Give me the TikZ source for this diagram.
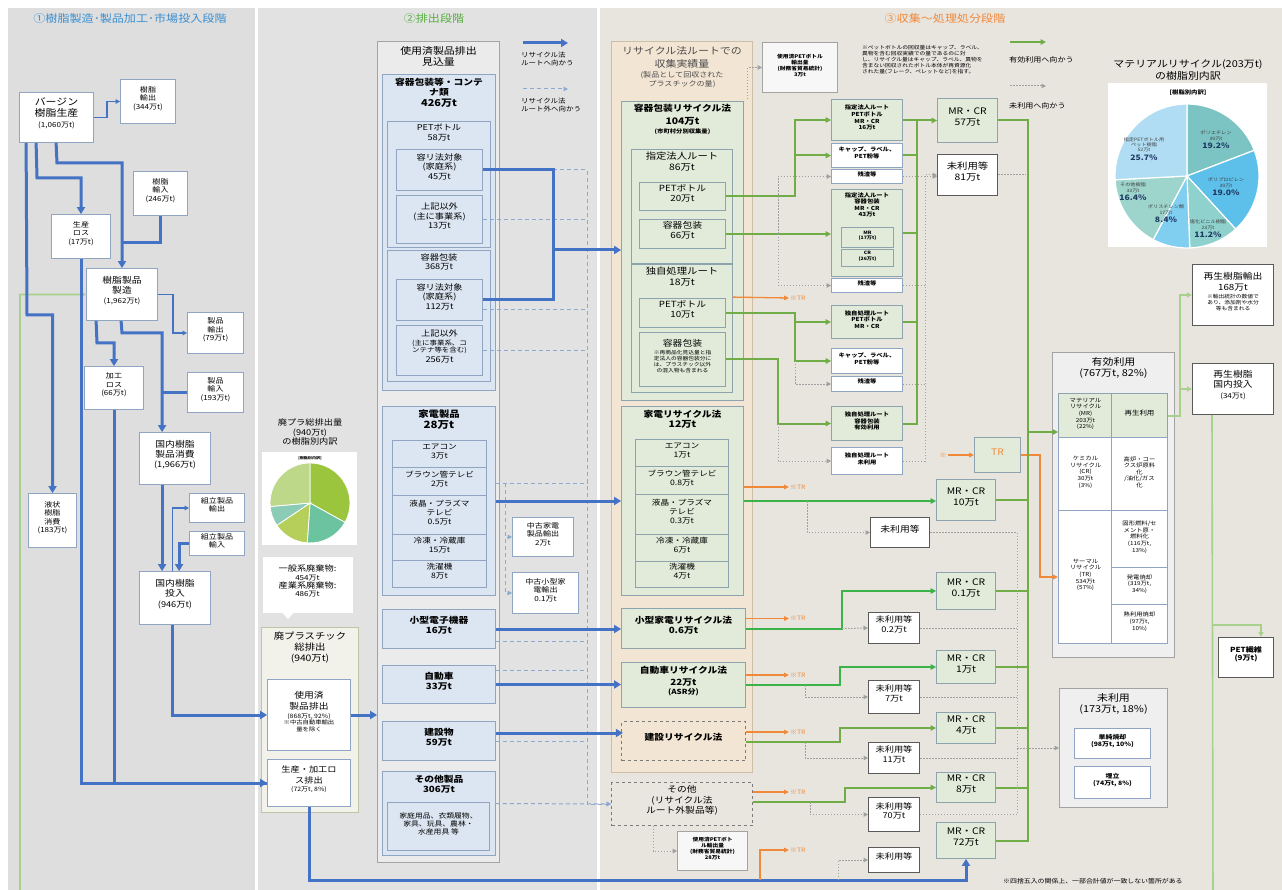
\documentclass[tikz,border=0pt]{standalone}
\usepackage{fontspec}
\setmainfont{Noto Sans CJK JP}[FakeStretch=1.15]
\usetikzlibrary{arrows.meta,fit}
\definecolor{cBlue}{HTML}{4472C4}
\definecolor{cGreen}{HTML}{70AD47}
\definecolor{cGreenB}{HTML}{3BB34A}
\definecolor{cLG}{HTML}{A9D18E}
\definecolor{cOr}{HTML}{F08A3A}
\definecolor{cDot}{HTML}{A0A0A0}
\definecolor{cDash}{HTML}{8EA9D0}
\definecolor{pA}{HTML}{DEDEDE}
\definecolor{pB}{HTML}{E2E2E2}
\definecolor{pC}{HTML}{E8E5DF}
\definecolor{bxBlue}{HTML}{DCE6F2}
\definecolor{bdBlue}{HTML}{8FA5C2}
\definecolor{bxGreen}{HTML}{E2EBD9}
\definecolor{bdGreen}{HTML}{8DA3AE}
\definecolor{bxBeige}{HTML}{F3E5D3}
\definecolor{bdBeige}{HTML}{CDBEA7}
\definecolor{bxGray}{HTML}{EBEBEB}
\definecolor{bdGray}{HTML}{A3A3A3}
\definecolor{bdDark}{HTML}{5A5A5A}
\definecolor{bxTot}{HTML}{F2F1EA}
\definecolor{bdTot}{HTML}{BEC4A6}
\definecolor{bxOth}{HTML}{E9E6DF}
\definecolor{tBlue}{HTML}{3A8FD0}
\definecolor{tGreen}{HTML}{56AE3E}
\definecolor{tOr}{HTML}{F0883A}
\definecolor{tNavy}{HTML}{1F3B64}
\definecolor{pPE}{HTML}{7CC4C4}
\definecolor{pPP}{HTML}{5DC0EA}
\definecolor{pPVC}{HTML}{8FD1CC}
\definecolor{pPS}{HTML}{80CEF0}
\definecolor{pOT}{HTML}{9DD4CC}
\definecolor{pPET}{HTML}{B0DDF3}
\definecolor{qA}{HTML}{9BC53D}
\definecolor{qB}{HTML}{6CC3A0}
\definecolor{qC}{HTML}{B5CF5A}
\definecolor{qD}{HTML}{8CCBB6}
\definecolor{qE}{HTML}{BDD889}
\newcommand\sz[2]{{\fontsize{#1}{#1}\selectfont\vrule width0pt height\dimexpr#1pt*9/10\relax depth\dimexpr#1pt*3/10\relax #2}}
\newcommand\bxn[5]{\node[#1, fit={(#2) (#3)}] (#4) {#5};}
\tikzset{
 fs/.style={font={\fontsize{#1}{\dimexpr#1pt*6/5\relax}\selectfont}},
 fsb/.style={font={\fontsize{#1}{\dimexpr#1pt*6/5\relax}\selectfont\bfseries}},
 bx/.style={line width=0.8pt, inner sep=0.5pt, align=center, text=black},
 wbox/.style={bx, draw=bdBlue, fill=white},
 kbox/.style={bx, draw=bdDark, fill=white, line width=1pt},
 bbox/.style={bx, draw=bdBlue, fill=bxBlue},
 gbox/.style={bx, draw=bdGreen, fill=bxGreen},
 graybox/.style={bx, draw=bdGray, fill=bxGray},
 ttl/.style={align=center, inner sep=0pt, anchor=north},
 trl/.style={fs=6, text=cOr, inner sep=1pt, anchor=west},
 lnB/.style={cBlue, line width=3pt},
 lnBa/.style={lnB, -{Triangle[length=7pt,width=8pt]}},
 lnBt/.style={cBlue, line width=1.2pt, -{Triangle[length=4.5pt,width=4.5pt]}},
 lnG/.style={cGreen, line width=2pt},
 lnGa/.style={lnG, -{Triangle[length=5.5pt,width=5.5pt]}},
 lnGBa/.style={cGreenB, line width=2pt, -{Triangle[length=5.5pt,width=5.5pt]}},
 lnL/.style={cLG, line width=1.6pt},
 lnLa/.style={lnL, -{Triangle[length=5pt,width=5pt]}},
 lnO/.style={cOr, line width=1.3pt, -{Triangle[length=5pt,width=4.5pt]}},
 lnD/.style={cDot, line width=1pt, dash pattern=on 1.5pt off 1.5pt},
 lnDa/.style={lnD, -{Triangle[length=4.5pt,width=4.5pt]}},
 lnS/.style={cDash, line width=1pt, dash pattern=on 4pt off 3pt},
 lnSa/.style={lnS, -{Triangle[length=4.5pt,width=4.5pt]}},
}
\begin{document}
\lineskip=1.5pt
\begin{tikzpicture}[x=1pt,y=-1pt]
\useasboundingbox (0,0) rectangle (1282,890);
\fill[white] (0,0) rectangle (1282,890);
\fill[pA] (8,8) rectangle (255,890);
\fill[pB] (258,8) rectangle (597,890);
\fill[pC] (600,8) rectangle (1282,890);

% ---------- titles ----------
\node[fs=10.5, text=tBlue] (T1) at (130,19) {①樹脂製造･製品加工･市場投入段階};
\node[fs=10.5, text=tGreen] (T2) at (434,19) {②排出段階};
\node[fs=10.5, text=tOr] (T3) at (945,19) {③収集～処理処分段階};

% ---------- panel 1 ----------
\bxn{wbox,fs=9.5}{20,93}{93,142}{vir}{バージン\\樹脂生産\\\sz{7}{(1,060万t)}}
\bxn{wbox,fs=7}{121,80}{175,123}{rexp}{樹脂\\輸出\\(344万t)}
\bxn{wbox,fs=7}{134,172}{187,215}{rimp}{樹脂\\輸入\\(246万t)}
\bxn{wbox,fs=7}{52,215}{110,258}{ploss}{生産\\ロス\\(17万t)}
\bxn{wbox,fs=8.5}{87,269}{157,320}{mfg}{樹脂製品\\製造\\\sz{7}{(1,962万t)}}
\bxn{wbox,fs=7}{188,313}{243,353}{pexp}{製品\\輸出\\(79万t)}
\bxn{wbox,fs=7}{85,367}{143,409}{ploss2}{加工\\ロス\\(66万t)}
\bxn{wbox,fs=7}{188,373}{243,412}{pimp}{製品\\輸入\\(193万t)}
\bxn{wbox,fs=8.5}{140,433}{210,484}{dom}{国内樹脂\\製品消費\\\sz{8}{(1,966万t)}}
\bxn{wbox,fs=7}{190,494}{244,522}{aexp}{組立製品\\輸出}
\bxn{wbox,fs=7}{190,532}{244,555}{aimp}{組立製品\\輸入}
\bxn{wbox,fs=7}{29,494}{76,547}{liq}{液状\\樹脂\\消費\\(183万t)}
\bxn{wbox,fs=8.5}{140,572}{210,624}{input}{国内樹脂\\投入\\\sz{8}{(946万t)}}

% ---------- panel 2 ----------
\node[fs=8, align=center] (pieT) at (310,432) {廃プラ総排出量\\(940万t)\\の樹脂別内訳};
\node[fill=white, inner sep=0pt, fit={(262,452) (357,545)}] (pieBg) {};
\node[fsb=3.5, inner sep=0pt] (pieH) at (310,458) {[樹脂別内訳]};
\begin{scope}[shift={(310,503)}, y=1pt]
 \foreach \a/\b/\c in {90/-29/qA, -29/-94/qB, -94/-146/qC, -146/-175/qD, -175/-270/qE}
  \filldraw[fill=\c, draw=white, line width=0.8pt] (0,0) -- (\a:40) arc[start angle=\a, end angle=\b, radius=40] -- cycle;
\end{scope}
\bxn{bx,fill=white,draw=none,fs=7}{263,557}{352,612}{waste}{\sz{8}{一般系廃棄物:}\\454万t\\\sz{8}{産業系廃棄物:}\\486万t}
\fill[white] (281,611) -- (295,611) -- (288,619) -- cycle;

\bxn{bx,fill=bxTot,draw=bdTot}{262,628}{358,812}{tot}{}
\node[ttl,fs=9] (totT) at ([yshift=-5]tot.north) {廃プラスチック\\総排出\\(940万t)};
\bxn{wbox,fs=5.5}{268,680}{350,750}{used}{\sz{8.5}{使用済}\\\sz{8.5}{製品排出}\\\sz{6}{(868万t, 92\%)}\\※中古自動車輸出\\量を除く}
\bxn{wbox,fs=6}{268,760}{350,806}{loss}{\sz{8}{生産・加工ロ}\\\sz{8}{ス排出}\\(72万t, 8\%)}

\bxn{graybox}{378,42}{499,862}{big}{}
\node[ttl,fs=9.5] (bigT) at ([yshift=-5]big.north) {使用済製品排出\\見込量};
\bxn{bbox}{383,75}{495,390}{cont}{}
\node[ttl,fsb=8.5] (contT) at ([yshift=-4]cont.north) {容器包装等・コンテ\\ナ類\\\sz{9.5}{426万t}};
\bxn{bbox}{388,122}{490,247}{pet}{}
\node[ttl,fs=8] (petT) at ([yshift=-3]pet.north) {PETボトル\\58万t};
\bxn{bbox,fs=8}{397,150}{482,190}{pet1}{容リ法対象\\(家庭系)\\45万t}
\bxn{bbox,fs=8}{397,196}{482,243}{pet2}{上記以外\\(主に事業系)\\13万t}
\bxn{bbox}{388,251}{490,381}{pkg}{}
\node[ttl,fs=8] (pkgT) at ([yshift=-3]pkg.north) {容器包装\\368万t};
\bxn{bbox,fs=8}{397,280}{482,320}{pkg1}{容リ法対象\\(家庭系)\\112万t}
\bxn{bbox,fs=6.5}{397,326}{482,375}{pkg2}{\sz{8}{上記以外}\\(主に事業系、コ\\ンテナ等を含む)\\\sz{8}{256万t}}

\bxn{bbox}{383,407}{495,595}{app}{}
\node[ttl,fsb=9] (appT) at ([yshift=-4]app.north) {家電製品\\\sz{10}{28万t}};
\bxn{bbox,fs=7.5}{393,441}{486,468}{ap1}{エアコン\\3万t}
\bxn{bbox,fs=7.5}{393,468}{486,496}{ap2}{ブラウン管テレビ\\2万t}
\bxn{bbox,fs=7.5}{393,496}{486,535}{ap3}{液晶・プラズマ\\テレビ\\0.5万t}
\bxn{bbox,fs=7.5}{393,535}{486,561}{ap4}{冷凍・冷蔵庫\\15万t}
\bxn{bbox,fs=7.5}{393,561}{486,587}{ap5}{洗濯機\\8万t}
\bxn{bbox,fsb=8.5}{383,610}{495,648}{small}{小型電子機器\\16万t}
\bxn{bbox,fsb=8.5}{383,666}{495,703}{car}{自動車\\33万t}
\bxn{bbox,fsb=8.5}{383,722}{495,760}{bld}{建設物\\59万t}
\bxn{bbox}{383,772}{495,855}{oth}{}
\node[ttl,fsb=8.5] (othT) at ([yshift=-4]oth.north) {その他製品\\306万t};
\bxn{bbox,fs=6.8}{388,803}{489,850}{othd}{家庭用品、衣類履物、\\家具、玩具、農林・\\水産用具 等}

\bxn{wbox,fs=7}{513,518}{573,556}{ua}{中古家電\\製品輸出\\2万t}
\bxn{wbox,fs=7}{513,573}{578,613}{usa}{中古小型家\\電輸出\\0.1万t}

\coordinate (lgb1) at (523,43); \coordinate (lgb2) at (568,43);
\coordinate (lgs1) at (523,89); \coordinate (lgs2) at (568,89);
\draw[lnBa] (lgb1) -- (lgb2);
\draw[lnSa] (lgs1) -- (lgs2);
\node[fs=6.5, align=left, anchor=north west, inner sep=0pt] (lgbT) at (521,52) {リサイクル法\\ルートへ向かう};
\node[fs=6.5, align=left, anchor=north west, inner sep=0pt] (lgsT) at (521,98) {リサイクル法\\ルート外へ向かう};

% ---------- panel 3 ----------
\bxn{bx,fill=bxBeige,draw=bdBeige}{612,42}{752,772}{rl}{}
\node[ttl,fs=7,text=black!70] (rlT) at ([yshift=-5]rl.north) {\sz{9.5}{リサイクル法ルートでの}\\\sz{9.5}{収集実績量}\\(製品として回収された\\プラスチックの量)};
\bxn{gbox}{622,102}{743,400}{yr}{}
\node[ttl,fsb=5.5] (yrT) at ([yshift=-3]yr.north) {\sz{8.5}{容器包装リサイクル法}\\\sz{9}{104万t}\\(市町村分別収集量)};
\bxn{gbox}{632,150}{732,263}{sr}{}
\node[ttl,fs=9] (srT) at ([yshift=-3]sr.north) {指定法人ルート\\86万t};
\bxn{gbox,fs=8.5}{640,183}{725,210}{sr1}{PETボトル\\20万t}
\bxn{gbox,fs=8.5}{640,220}{725,248}{sr2}{容器包装\\66万t}
\bxn{gbox}{632,265}{732,392}{dr}{}
\node[ttl,fs=9] (drT) at ([yshift=-3]dr.north) {独自処理ルート\\18万t};
\bxn{gbox,fs=8.5}{640,299}{725,327}{dr1}{PETボトル\\10万t}
\bxn{gbox,fs=5}{640,333}{725,386}{dr2}{\sz{8.5}{容器包装}\\※再商品化見込量と指\\定法人の容器包装分に\\は、プラスチック以外\\の混入物も含まれる}
\bxn{gbox}{622,407}{743,595}{kr}{}
\node[ttl,fsb=8.5] (krT) at ([yshift=-4]kr.north) {家電リサイクル法\\\sz{9}{12万t}};
\bxn{gbox,fs=7.5}{636,440}{728,467}{kr1}{エアコン\\1万t}
\bxn{gbox,fs=7.5}{636,467}{728,495}{kr2}{ブラウン管テレビ\\0.8万t}
\bxn{gbox,fs=7.5}{636,495}{728,535}{kr3}{液晶・プラズマ\\テレビ\\0.3万t}
\bxn{gbox,fs=7.5}{636,535}{728,562}{kr4}{冷凍・冷蔵庫\\6万t}
\bxn{gbox,fs=7.5}{636,562}{728,587}{kr5}{洗濯機\\4万t}
\bxn{gbox,fsb=8.5}{622,609}{745,648}{smr}{小型家電リサイクル法\\0.6万t}
\bxn{gbox,fsb=7}{622,663}{745,707}{carr}{\sz{8.5}{自動車リサイクル法}\\\sz{8.5}{22万t}\\(ASR分)}
\bxn{bx,fill=bxBeige,draw=bdDark!80,dashed,fsb=8.5}{622,722}{745,760}{bldr}{建設リサイクル法}
\bxn{bx,fill=bxOth,draw=bdDark!80,dashed,fs=8.5}{612,783}{752,825}{othr}{その他\\(リサイクル法\\ルート外製品等)}
\bxn{bx,fill=white!60!bxGray,draw=bdGray,fsb=5}{763,43}{837,92}{petx1}{使用済PETボトル\\輸出量\\(財務省貿易統計)\\3万t}
\bxn{bx,fill=white!60!bxGray,draw=bdGray,fsb=5}{678,832}{747,870}{petx2}{使用済PETボト\\ル輸出量\\(財務省貿易統計)\\28万t}
\node[fs=5, align=left, anchor=north west, inner sep=0pt] (note) at (862,45) {※ペットボトルの回収量はキャップ、ラベル、\\異物を含む回収実績での量であるのに対\\し、リサイクル量はキャップ、ラベル、異物を\\含まない回収されたボトル本体が再資源化\\された量(フレーク、ペレットなど)を指す。};

\coordinate (lgg1) at (1010,42); \coordinate (lgg2) at (1046,42);
\coordinate (lgd1) at (1010,86); \coordinate (lgd2) at (1046,86);
\draw[lnGa] (lgg1) -- (lgg2);
\draw[lnDa] (lgd1) -- (lgd2);
\node[fs=7, anchor=west, inner sep=0pt] (lggT) at (1009,60) {有効利用へ向かう};
\node[fs=7, anchor=west, inner sep=0pt] (lgdT) at (1009,106) {未利用へ向かう};

\bxn{gbox,fsb=5.5}{832,100}{902,140}{g1}{指定法人ルート\\PETボトル\\MR・CR\\16万t}
\bxn{wbox,fsb=5.5}{832,144}{902,167}{w1}{キャップ、ラベル、\\PET粉等}
\bxn{wbox,fsb=5.5}{832,170}{902,183}{z1}{残渣等}
\bxn{gbox}{832,190}{902,276}{g2}{}
\node[ttl,fsb=5.5] (g2T) at ([yshift=-3]g2.north) {指定法人ルート\\容器包装\\MR・CR\\43万t};
\bxn{gbox,fsb=4.5}{842,228}{893,247}{g2a}{MR\\(17万t)}
\bxn{gbox,fsb=4.5}{842,250}{893,266}{g2b}{CR\\(26万t)}
\bxn{wbox,fsb=5.5}{832,279}{902,292}{z2}{残渣等}
\bxn{gbox,fsb=5.5}{832,306}{902,338}{g3}{独自処理ルート\\PETボトル\\MR・CR}
\bxn{wbox,fsb=5.5}{832,349}{902,373}{w3}{キャップ、ラベル、\\PET粉等}
\bxn{wbox,fsb=5.5}{832,377}{902,391}{z3}{残渣等}
\bxn{gbox,fsb=5.5}{832,407}{902,440}{g4}{独自処理ルート\\容器包装\\有効利用}
\bxn{wbox,fsb=5.5}{832,448}{902,474}{w4}{独自処理ルート\\未利用}

\bxn{gbox,fs=9}{938,99}{997,142}{m57}{MR・CR\\57万t}
\bxn{kbox,fs=9}{938,155}{997,195}{u81}{未利用等\\81万t}
\bxn{gbox,fs=9,text=cOr}{975,438}{1020,472}{trb}{TR}
\node[fs=6, text=cOr, inner sep=1pt] (xs) at (943,455) {※};
\bxn{gbox,fs=9}{937,480}{995,520}{m10}{MR・CR\\10万t}
\bxn{kbox,fs=8.5}{871,518}{929,547}{u0}{未利用等}
\bxn{gbox,fs=9}{937,573}{995,609}{m01}{MR・CR\\0.1万t}
\bxn{kbox,fs=8}{869,613}{919,643}{u02}{未利用等\\0.2万t}
\bxn{gbox,fs=9}{937,651}{995,683}{m1}{MR・CR\\1万t}
\bxn{kbox,fs=8}{869,681}{919,713}{u7}{未利用等\\7万t}
\bxn{gbox,fs=9}{937,713}{995,743}{m4}{MR・CR\\4万t}
\bxn{kbox,fs=8}{869,743}{919,773}{u11}{未利用等\\11万t}
\bxn{gbox,fs=9}{937,773}{995,802}{m8}{MR・CR\\8万t}
\bxn{kbox,fs=8}{869,798}{919,831}{u70}{未利用等\\70万t}
\bxn{gbox,fs=9}{937,823}{995,858}{m72}{MR・CR\\72万t}
\bxn{kbox,fs=8}{869,848}{919,872}{ub}{未利用等}

\node[trl] (tr1) at (789,298) {※TR};
\node[trl] (tr2) at (789,487) {※TR};
\node[trl] (tr3) at (789,618.5) {※TR};
\node[trl] (tr4) at (789,675) {※TR};
\node[trl] (tr5) at (789,732) {※TR};
\node[trl] (tr6) at (789,792) {※TR};
\node[trl] (tr7) at (789,850) {※TR};

\bxn{bx,fill=bxGray!80!white,draw=bdGray}{1053,353}{1174,657}{eff}{}
\node[ttl,fs=9.5] (effT) at ([yshift=-5]eff.north) {有効利用\\(767万t, 82\%)};
\bxn{gbox,fs=5.5}{1059,394}{1112,438}{cMR}{マテリアル\\リサイクル\\(MR)\\203万t\\(22\%)}
\bxn{gbox,fs=6.5}{1112,394}{1167,438}{cRE}{再生利用}
\bxn{wbox,fs=5.5}{1059,438}{1112,511}{cCR}{ケミカル\\リサイクル\\(CR)\\30万t\\(3\%)}
\bxn{wbox,fs=5.5}{1112,438}{1167,511}{cCRd}{高炉・コー\\クス炉原料\\化\\/油化/ガス\\化}
\bxn{wbox,fs=5.5}{1059,511}{1112,643}{cTR}{サーマル\\リサイクル\\(TR)\\534万t\\(57\%)}
\bxn{wbox,fs=5.5}{1112,511}{1167,568}{cT1}{固形燃料/セ\\メント原・\\燃料化\\(116万t,\\13\%)}
\bxn{wbox,fs=5.5}{1112,568}{1167,605}{cT2}{発電焼却\\(319万t,\\34\%)}
\bxn{wbox,fs=5.5}{1112,605}{1167,643}{cT3}{熱利用焼却\\(97万t,\\10\%)}

\bxn{bx,fill=bxGray!80!white,draw=bdGray}{1060,689}{1167,807}{unu}{}
\node[ttl,fs=9.5] (unuT) at ([yshift=-5]unu.north) {未利用\\(173万t, 18\%)};
\bxn{wbox,fsb=6}{1075,729}{1150,758}{unu1}{単純焼却\\(98万t, 10\%)}
\bxn{wbox,fsb=6}{1075,767}{1150,798}{unu2}{埋立\\(74万t, 8\%)}

\bxn{kbox,fs=5}{1193,265}{1273,325}{rx}{\sz{8.5}{再生樹脂輸出}\\\sz{8.5}{168万t}\\※輸出統計の数値で\\あり、添加剤や水分\\等も含まれる}
\bxn{kbox,fs=8.5}{1193,364}{1273,414}{rd}{再生樹脂\\国内投入\\\sz{7}{(34万t)}}
\bxn{kbox,fsb=7}{1219,638}{1273,677}{pf}{PET繊維\\(9万t)}

\node[fs=9.5, align=center] (mpT) at (1188,70) {マテリアルリサイクル(203万t)\\の樹脂別内訳};
\node[fill=white, inner sep=0pt, fit={(1108,83) (1267,247)}] (mpBg) {};
\node[fsb=5.5, inner sep=0pt] (mpH) at (1188,93) {[樹脂別内訳]};
\begin{scope}[shift={(1187,176)}, y=1pt]
 \foreach \a/\b/\c in {90/20.9/pPE, 20.9/-47.5/pPP, -47.5/-87.8/pPVC, -87.8/-118/pPS, -118/-177/pOT, -177/-270/pPET}
  \filldraw[fill=\c, draw=white, line width=1.2pt] (0,0) -- (\a:72) arc[start angle=\a, end angle=\b, radius=72] -- cycle;
\end{scope}
\node[fs=4.5, align=center, text=black!75] (lPE) at (1216,141) {ポリエチレン\\39万t\\\sz{7.5}{\bfseries\color{tNavy}19.2\%}};
\node[fs=4.5, align=center, text=black!75] (lPP) at (1226,188) {ポリプロピレン\\39万t\\\sz{7.5}{\bfseries\color{tNavy}19.0\%}};
\node[fs=4.5, align=center, text=black!75] (lPVC) at (1208,230) {塩化ビニル樹脂\\23万t\\\sz{7.5}{\bfseries\color{tNavy}11.2\%}};
\node[fs=4.5, align=center, text=black!75] (lPS) at (1166,215) {ポリスチレン類\\17万t\\\sz{7.5}{\bfseries\color{tNavy}8.4\%}};
\node[fs=4.5, align=center, text=black!75] (lOT) at (1133,193) {その他樹脂\\33万t\\\sz{7.5}{\bfseries\color{tNavy}16.4\%}};
\node[fs=4.5, align=center, text=black!75] (lPET) at (1144,150) {指定PETボトル用\\ペット樹脂\\52万t\\\sz{7.5}{\bfseries\color{tNavy}25.7\%}};

\node[fs=6, anchor=west, inner sep=0pt] (foot) at (1003,881) {※四捨五入の関係上、一部合計値が一致しない箇所がある};

% ---------- connectors ----------
% light green recycle loop
\draw[lnLa] ([xshift=20]rd.south west) -- (1213,905) -- (20,905) -- (20,294.5) -- (mfg.west);
\coordinate (jpf) at (1213,625);
\draw[lnLa] (jpf) -| ([xshift=43]pf.north west);
\draw[lnLa] (cRE.east) -- (1180,416) |- (rx.west);
\coordinate (jrd) at (1180,389);
\draw[lnLa] (jrd) -- (rd.west);

% panel 1 blue
\draw[lnBt] (vir.east) -- (107,117.5) |- (rexp.west);
\draw[lnBa] ([xshift=7]vir.south west) -- (27,315) -| (liq.north);
\draw[lnBa] ([xshift=17]vir.south west) -- (37,178) -| (ploss.north);
\draw[lnBa] ([xshift=37]vir.south west) -- (57,163) -| (mfg.north);
\draw[lnB] (rimp.south) |- (122,243);
\draw[lnBt] (mfg.east) -- (173,294.5) |- (pexp.west);
\draw[lnBa] ([xshift=10]mfg.south west) -- (97,343) -| (ploss2.north);
\draw[lnBa] ([xshift=35]mfg.south west) -- (122,333) -| ([xshift=23]dom.north west);
\draw[lnB] (pimp.west) -- (163,392.5);
\draw[lnBa] ([xshift=23]dom.south west) -- ([xshift=23]input.north west);
\draw[lnBa] (aimp.west) -| ([xshift=40]input.north west);
\draw[lnBt] ([xshift=33]input.north west) |- (aexp.west);
\draw[lnBa] ([xshift=33]input.south west) |- (used.west);
\draw[lnB] (ploss.south) |- (loss.west);
\draw[lnBa] (ploss2.south) |- (loss.west);

% panel 2 dashed
\coordinate (dtr) at (587,0);
\draw[lnSa] (pet1.east) -- (587,170) |- (othr.west);
\draw[lnS] (pet2.east) -- (pet2.east -| dtr);
\draw[lnS] ([yshift=-10]pkg1.east) -- +(105,0);
\draw[lnS] (pkg2.east) -- (pkg2.east -| dtr);
\draw[lnS] ([yshift=18]app.east) -- +(92,0);
\coordinate (jua) at (505,483);
\draw[lnSa] (jua) |- (ua.west);
\draw[lnSa] (jua) |- (usa.west);
\draw[lnS] ([yshift=-12]small.east) -- +(92,0);
\draw[lnS] ([yshift=14.5]car.east) -- +(92,0);
\draw[lnS] (bld.east) -- +(92,0);
\draw[lnSa] ([yshift=10]oth.east) -- (othr.west);

% panel 2 blue
\draw[lnBa] (used.east) -- (used.east -| big.west);
\coordinate (j1) at (553,250);
\draw[lnB] (pet1.east) -| (j1);
\draw[lnBa] (pkg1.east) -| (j1) -- (j1 -| yr.west);
\draw[lnBa] (app.east) -- (app.east -| kr.west);
\draw[lnBa] (small.east) -- (small.east -| smr.west);
\draw[lnBa] (car.east) -- (car.east -| carr.west);
\draw[lnBa] ([yshift=8]bld.east) -- +(127,0);
\coordinate (jb) at (966,880);
\draw[lnBa] (loss.south) |- (jb) -- (m72.south);

% panel 3 dotted to exports
\draw[lnDa] ([xshift=-5,yshift=-58]rl.north east) |- (petx1.west);
\draw[lnDa] ([xshift=-29]othr.south) |- (petx2.west);

% orange TR
\coordinate (ob) at (760,880);
\draw[lnO] ([yshift=-33]dr.north east) -- (tr1.west);
\draw[lnO] ([yshift=14]kr.east) -- (tr2.west);
\draw[lnO] ([yshift=10]smr.east) -- (tr3.west);
\draw[lnO] ([yshift=10]carr.east) -- (tr4.west);
\draw[lnO] ([yshift=9]bldr.east) -- (tr5.west);
\draw[lnO] ([yshift=12]othr.east) -- (tr6.west);
\draw[lnO] (ob) |- (tr7.west);
\draw[lnO] (xs.east) -- (trb.west);
\draw[lnO] (trb.east) -- (1040,455) |- (cTR.west);

% container recycling routes
\coordinate (js1) at (795,155.5);
\coordinate (jd1) at (778,234);
\draw[lnGa] (sr1.east) -| (795,120) -- (g1.west);
\draw[lnGa] (js1) -- (w1.west);
\draw[lnGa] (sr2.east) -- (sr2.east -| g2.west);
\draw[lnDa] (jd1) |- (z1.west);
\draw[lnDa] (jd1) |- (z2.west);
\coordinate (js3) at (795,322);
\coordinate (js4) at (795,361);
\coordinate (jd4) at (778,423.5);
\draw[lnGa] (dr1.east) -| (js4) -- (w3.west);
\draw[lnGa] (js3) -- (g3.west);
\draw[lnDa] (js4) |- (z3.west);
\draw[lnGa] (dr2.east) -| (jd4) -- (g4.west);
\draw[lnDa] (jd4) |- (w4.west);

\coordinate (tg) at (917,0);
\coordinate (td) at (925,0);
\draw[lnDa] (w4.east) -| (td |- u81.west) -- (u81.west);
\draw[lnD] (z3.east) -- (z3.east -| td);
\draw[lnD] (z2.east) -- (z2.east -| td);
\draw[lnDa] (z1.east) -- (z1.east -| u81.west);
\draw[lnD] (u81.east) -- +(28,0);
\draw[lnGa] (g4.east) -| (tg |- m57.west) -- (m57.west);
\draw[lnG] (g1.east) -- (g1.east -| tg);
\draw[lnG] (w1.east) -- (w1.east -| tg);
\draw[lnG] (g2.east) -- (g2.east -| tg);
\draw[lnG] (g3.east) -- (g3.east -| tg);

% other laws
\coordinate (jk) at (807,501);
\coordinate (jsm) at (842,628.5);
\coordinate (jc) at (805,685);
\coordinate (jbl) at (805,742);
\coordinate (jo) at (810,802);
\coordinate (jbt) at (838,880);
\draw[lnGBa] (kr.east) -- (kr.east -| m10.west);
\draw[lnDa] (jk) |- (u0.west);
\draw[lnGBa] (smr.east) -| (842,591) -- (m01.west);
\draw[lnDa] (jsm) -- (u02.west);
\draw[lnGBa] (carr.east) -| (840,667) -- (m1.west);
\draw[lnDa] (jc) |- (u7.west);
\draw[lnGa] ([yshift=-1]bldr.east) -| (840,728) -- (m4.west);
\draw[lnDa] (jbl) |- (u11.west);
\draw[lnGa] ([yshift=2]othr.east) -| (845,787.5) -- (m8.west);
\draw[lnDa] (jo) |- (u70.west);
\draw[lnDa] (jbt) |- (ub.west);

% green trunk to effective use
\coordinate (tk) at (1028,0);
\draw[lnG] (m57.east) -| (tk |- m72.east) -- (m72.east);
\coordinate (ak) at (1028,432);
\draw[lnGa] (ak) -- (ak -| cMR.west);
\draw[lnG] (m10.east) -- (m10.east -| tk);
\draw[lnG] (m01.east) -- (m01.east -| tk);
\draw[lnG] (m1.east) -- (m1.east -| tk);
\draw[lnG] (m4.east) -- (m4.east -| tk);
\draw[lnG] (m8.east) -- (m8.east -| tk);

% dotted to unused
\coordinate (tu) at (1017,0);
\draw[lnD] (u0.east) -| (tu |- u70.east) -- (u70.east);
\draw[lnD] (u02.east) -- (u02.east -| tu);
\draw[lnD] (u7.east) -- (u7.east -| tu);
\draw[lnD] (u11.east) -- (u11.east -| tu);
\draw[lnDa] (tu |- unu.west) -- (unu.west);
\end{tikzpicture}
\end{document}
